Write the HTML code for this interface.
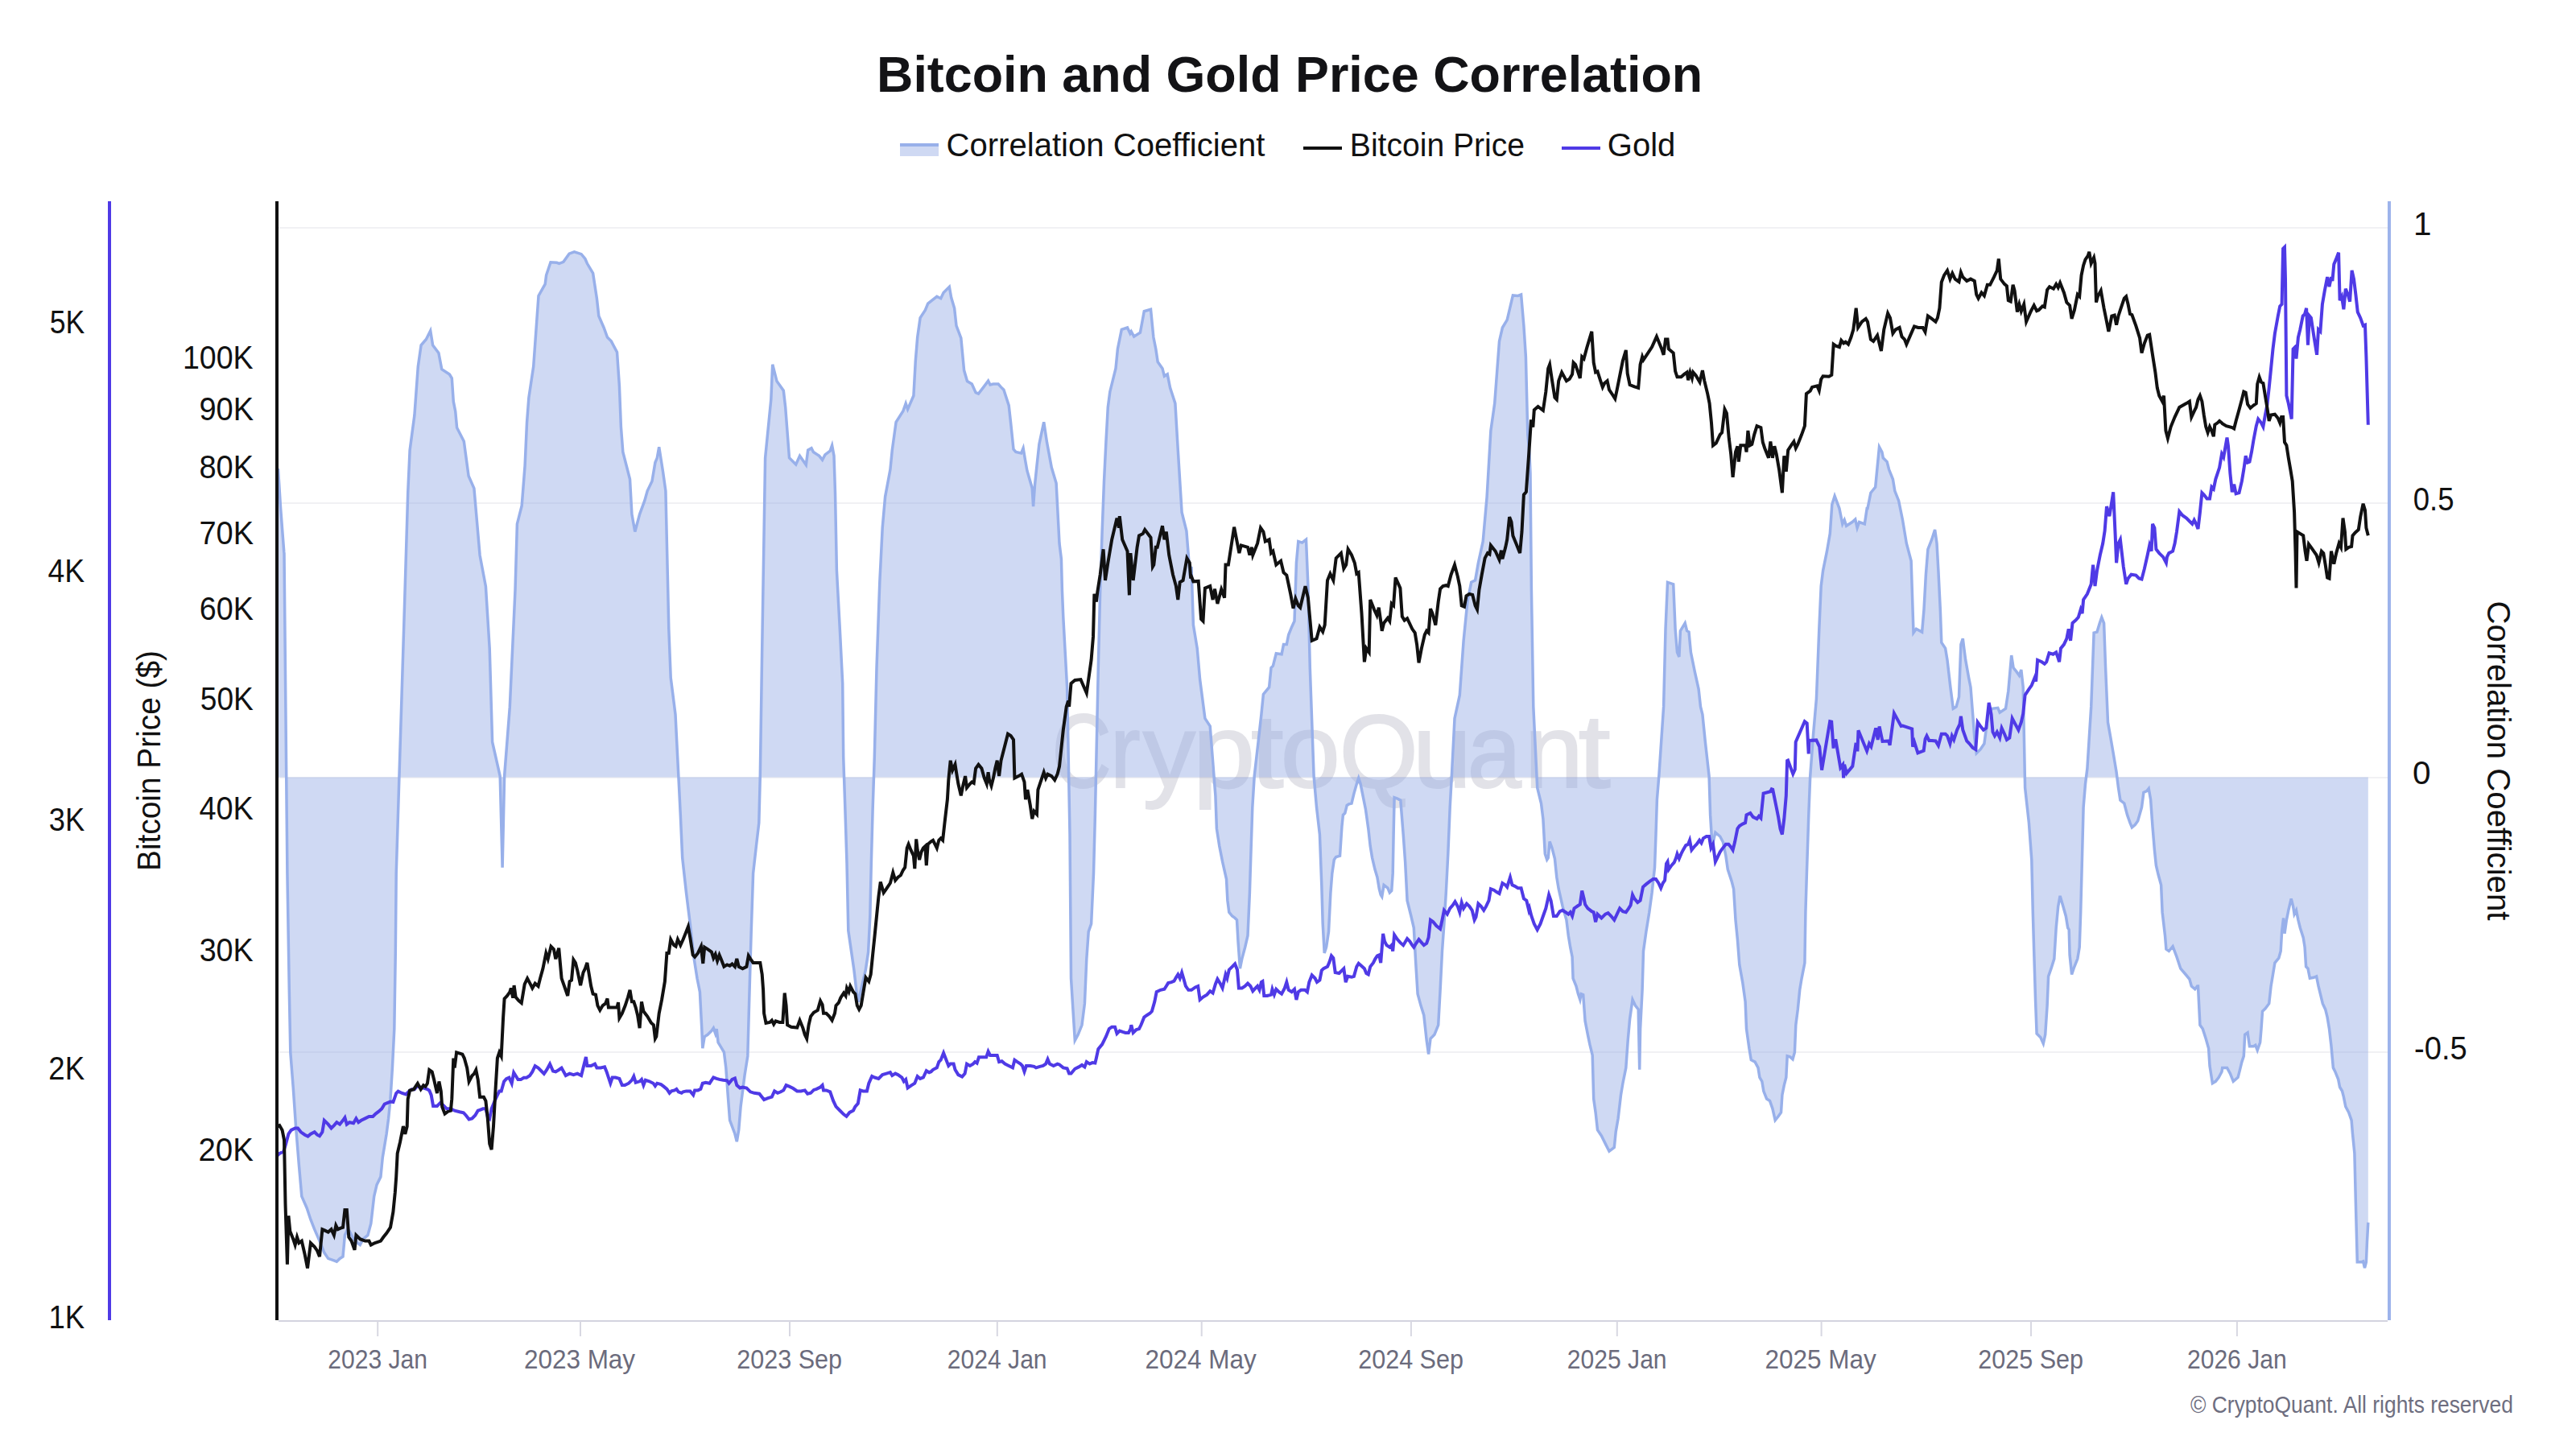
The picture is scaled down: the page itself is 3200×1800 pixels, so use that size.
<!DOCTYPE html>
<html><head><meta charset="utf-8"><title>Bitcoin and Gold Price Correlation</title>
<style>html,body{margin:0;padding:0;background:#fff;width:3200px;height:1800px;overflow:hidden}svg{position:absolute;left:0;top:0;font-family:"Liberation Sans",sans-serif}</style></head>
<body><svg width="3200" height="1800" viewBox="0 0 3200 1800">
<line x1="346" y1="283" x2="2966" y2="283" stroke="#f1f1f4" stroke-width="2"/>
<line x1="346" y1="625" x2="2966" y2="625" stroke="#f1f1f4" stroke-width="2"/>
<line x1="346" y1="966" x2="2966" y2="966" stroke="#f1f1f4" stroke-width="2"/>
<line x1="346" y1="1307" x2="2966" y2="1307" stroke="#f1f1f4" stroke-width="2"/>
<g opacity="0.18" fill="#646482" stroke="#646482" stroke-width="2" font-size="129.0"><text x="1306.80" y="978" textLength="73.76" lengthAdjust="spacingAndGlyphs">C</text><text x="1379.14" y="978" textLength="37.30" lengthAdjust="spacingAndGlyphs">r</text><text x="1419.83" y="978" textLength="65.25" lengthAdjust="spacingAndGlyphs">y</text><text x="1481.70" y="978" textLength="77.60" lengthAdjust="spacingAndGlyphs">p</text><text x="1554.04" y="978" textLength="40.52" lengthAdjust="spacingAndGlyphs">t</text><text x="1590.88" y="978" textLength="74.14" lengthAdjust="spacingAndGlyphs">o</text><text x="1663.81" y="978" textLength="97.90" lengthAdjust="spacingAndGlyphs">Q</text><text x="1754.97" y="978" textLength="72.85" lengthAdjust="spacingAndGlyphs">u</text><text x="1822.64" y="978" textLength="67.04" lengthAdjust="spacingAndGlyphs">a</text><text x="1893.74" y="978" textLength="73.12" lengthAdjust="spacingAndGlyphs">n</text><text x="1960.67" y="978" textLength="39.87" lengthAdjust="spacingAndGlyphs">t</text></g>
<path d="M345.5,965.5 L345.5,582.0 L348.5,630.0 L352.8,686.0 L353.0,687.3 L356.9,1085.0 L359.3,1229.9 L360.8,1307.3 L364.2,1350.7 L367.5,1399.1 L371.4,1447.4 L374.8,1486.1 L381.1,1500.5 L385.9,1515.0 L390.7,1527.1 L397.0,1541.6 L402.8,1556.1 L407.7,1563.4 L414.9,1565.8 L418.3,1567.2 L422.1,1563.4 L426.0,1561.0 L428.4,1534.4 L431.8,1527.1 L434.2,1529.5 L439.1,1539.2 L443.9,1544.0 L447.3,1546.5 L451.1,1539.2 L456.9,1534.4 L460.8,1519.9 L464.7,1486.1 L468.1,1471.6 L472.9,1461.9 L475.3,1437.7 L477.7,1423.2 L480.1,1408.7 L482.6,1389.4 L485.0,1365.2 L487.4,1326.6 L489.8,1278.3 L491.3,1181.6 L492.2,1085.0 L501.9,771.9 L506.7,612.4 L509.1,559.3 L514.9,515.8 L519.3,455.4 L523.1,428.8 L529.4,421.5 L534.7,410.9 L537.6,428.8 L544.9,438.5 L548.8,458.8 L558.4,465.0 L561.3,469.9 L563.3,498.9 L565.7,510.9 L567.6,531.2 L576.3,548.2 L582.1,591.2 L588.9,606.6 L596.1,689.7 L603.4,728.4 L608.2,805.7 L611.6,921.7 L621.2,964.2 L624.1,1077.7 L626.6,964.2 L633.3,878.2 L640.0,733.0 L642.4,650.9 L648.2,628.2 L652.1,578.4 L654.5,525.3 L656.9,493.9 L662.7,455.3 L669.0,367.4 L677.2,352.9 L678.6,341.8 L684.0,325.8 L691.7,326.3 L694.6,327.3 L699.9,325.3 L707.1,315.2 L713.4,312.8 L722.1,315.7 L726.9,321.5 L729.4,327.3 L736.6,339.4 L741.4,370.7 L743.8,392.5 L750.1,407.0 L754.5,419.0 L759.3,423.9 L766.5,437.4 L769.4,479.4 L771.4,530.1 L773.8,561.5 L782.5,595.3 L784.9,638.8 L788.8,660.5 L794.6,638.8 L800.8,621.9 L804.2,609.8 L810.0,597.7 L813.9,574.6 L816.3,568.8 L818.7,555.2 L823.5,585.7 L826.9,609.8 L829.3,713.7 L830.8,781.3 L833.2,841.6 L839.0,887.5 L845.3,1012.4 L847.7,1065.6 L852.5,1109.0 L857.3,1147.7 L862.2,1191.1 L866.0,1215.3 L869.4,1232.2 L871.8,1278.1 L872.8,1302.2 L875.2,1287.7 L879.1,1285.3 L883.9,1280.5 L886.3,1277.1 L888.7,1283.9 L890.2,1278.1 L892.1,1295.0 L896.0,1301.3 L899.4,1307.1 L901.8,1326.4 L904.2,1360.2 L906.6,1391.6 L912.9,1408.5 L915.3,1418.1 L917.7,1403.7 L920.1,1374.7 L925.0,1336.0 L928.8,1311.9 L930.8,1239.4 L933.2,1157.3 L935.6,1084.9 L939.4,1051.1 L942.8,1022.1 L944.3,964.1 L946.7,805.4 L949.1,660.5 L950.6,568.8 L957.8,496.3 L959.7,452.8 L965.0,473.6 L973.3,485.2 L975.7,506.0 L980.5,568.8 L988.7,577.0 L993.5,566.3 L1001.3,577.5 L1003.7,559.1 L1008.0,556.7 L1010.4,561.5 L1017.7,566.3 L1021.6,571.2 L1024.9,564.9 L1031.2,560.1 L1033.6,553.3 L1036.0,566.3 L1037.5,612.2 L1039.4,708.8 L1043.3,781.3 L1046.7,848.9 L1047.7,940.0 L1049.9,1006.0 L1052.0,1072.5 L1053.8,1156.0 L1060.9,1205.0 L1064.2,1233.6 L1066.4,1244.6 L1068.6,1233.6 L1075.3,1205.0 L1078.6,1182.8 L1080.8,1138.7 L1082.3,1072.5 L1084.1,1006.0 L1086.3,940.0 L1089.0,829.6 L1092.8,723.3 L1096.2,655.7 L1099.6,617.1 L1105.9,583.3 L1108.3,559.1 L1113.1,524.3 L1121.8,510.8 L1125.2,501.1 L1127.6,508.4 L1134.9,491.5 L1137.3,448.0 L1139.7,419.0 L1143.1,394.9 L1149.4,385.2 L1152.7,377.0 L1163.8,368.3 L1168.7,370.7 L1172.1,363.5 L1179.3,356.3 L1181.7,369.8 L1185.6,382.8 L1188.0,404.6 L1193.8,420.0 L1197.6,460.1 L1201.5,473.6 L1207.3,477.0 L1212.1,487.6 L1215.5,489.1 L1221.8,480.9 L1227.6,473.1 L1230.0,478.0 L1233.9,477.0 L1240.1,477.0 L1243.5,480.9 L1246.9,484.2 L1253.2,503.6 L1255.6,525.3 L1259.0,558.1 L1261.9,561.5 L1268.6,563.0 L1271.1,556.7 L1273.5,571.2 L1275.9,584.7 L1282.2,606.4 L1283.6,629.1 L1285.5,602.6 L1288.0,578.4 L1290.9,551.9 L1296.7,524.3 L1300.5,549.4 L1306.3,580.8 L1312.1,600.2 L1316.0,675.0 L1318.4,694.3 L1319.4,733.0 L1320.8,766.8 L1323.2,810.3 L1325.6,853.7 L1329.0,1036.6 L1330.5,1215.3 L1332.9,1253.9 L1335.3,1292.6 L1339.2,1285.3 L1344.0,1273.3 L1347.4,1246.7 L1349.8,1191.1 L1352.2,1157.3 L1355.6,1147.7 L1358.5,1084.9 L1360.4,1012.4 L1364.3,829.6 L1366.7,733.0 L1369.1,660.5 L1371.5,597.7 L1373.9,549.4 L1376.3,506.0 L1378.8,486.7 L1386.0,457.7 L1388.4,433.5 L1393.3,409.4 L1400.5,407.0 L1403.9,414.2 L1405.3,411.8 L1408.7,418.1 L1416.4,413.2 L1421.3,386.7 L1429.5,384.3 L1432.9,419.0 L1435.8,433.5 L1438.2,449.5 L1444.0,457.7 L1446.4,467.3 L1450.2,464.9 L1453.6,481.8 L1459.9,501.1 L1463.3,559.1 L1465.7,597.7 L1468.1,636.4 L1473.9,659.6 L1477.8,708.8 L1480.0,704.0 L1482.4,776.4 L1487.2,805.4 L1490.6,844.1 L1496.9,892.4 L1503.2,902.0 L1509.9,988.3 L1511.4,1029.4 L1514.8,1051.1 L1518.6,1070.4 L1523.5,1092.1 L1524.9,1118.7 L1526.8,1133.2 L1530.7,1138.0 L1534.1,1140.4 L1536.5,1142.8 L1538.0,1169.4 L1540.4,1203.2 L1542.8,1191.1 L1546.7,1176.7 L1550.0,1162.2 L1552.4,1109.0 L1553.9,1060.7 L1555.8,1002.8 L1558.2,964.1 L1563.1,921.3 L1566.9,887.5 L1569.4,862.4 L1576.6,853.7 L1579.0,829.6 L1581.4,827.2 L1585.3,811.7 L1592.1,812.7 L1594.5,800.6 L1598.3,800.6 L1600.7,788.5 L1604.6,778.9 L1608.0,771.6 L1610.4,699.2 L1612.8,672.6 L1617.6,674.1 L1622.5,670.2 L1624.9,728.1 L1627.3,829.6 L1632.1,964.1 L1635.5,1002.8 L1639.4,1036.6 L1641.8,1099.4 L1643.2,1147.7 L1645.2,1183.9 L1647.6,1176.7 L1650.5,1157.3 L1652.9,1109.0 L1654.8,1084.9 L1657.3,1068.0 L1659.7,1064.6 L1664.5,1063.2 L1666.9,1026.9 L1668.4,1012.4 L1670.8,1010.0 L1673.2,1000.4 L1675.6,998.9 L1679.0,998.0 L1681.9,985.9 L1685.3,973.8 L1687.7,966.6 L1690.1,973.8 L1692.5,985.9 L1696.4,1005.2 L1699.8,1029.4 L1702.2,1051.1 L1704.6,1065.6 L1708.0,1080.1 L1710.9,1089.7 L1713.3,1104.2 L1715.2,1111.5 L1716.7,1113.9 L1719.1,1099.4 L1723.9,1103.2 L1726.3,1109.0 L1728.7,1106.6 L1730.2,1084.9 L1731.1,1036.6 L1732.1,990.7 L1736.0,992.2 L1739.8,994.1 L1743.2,1036.6 L1745.6,1070.4 L1748.1,1118.7 L1752.9,1138.0 L1756.3,1152.5 L1758.7,1196.0 L1761.1,1234.6 L1765.0,1249.1 L1768.8,1261.2 L1772.2,1292.6 L1774.6,1309.5 L1777.0,1290.2 L1781.9,1285.3 L1786.7,1273.3 L1789.1,1229.8 L1791.5,1181.5 L1793.9,1147.7 L1796.3,1109.0 L1798.8,1060.7 L1801.2,1002.8 L1803.6,959.3 L1807.0,892.4 L1813.3,863.4 L1815.7,829.6 L1818.1,795.8 L1822.9,747.5 L1827.7,723.3 L1832.6,720.9 L1836.4,699.2 L1842.2,672.6 L1847.1,617.1 L1851.9,535.0 L1856.7,501.1 L1862.5,423.9 L1866.4,407.0 L1872.2,397.3 L1879.4,366.9 L1885.7,367.4 L1889.6,365.9 L1892.9,404.6 L1895.4,443.2 L1897.8,539.8 L1900.0,563.9 L1901.0,588.1 L1902.4,733.0 L1904.8,877.9 L1909.7,978.6 L1914.5,998.0 L1916.9,1017.3 L1919.3,1060.7 L1921.7,1068.0 L1923.2,1065.6 L1925.1,1045.3 L1928.0,1053.5 L1931.4,1066.5 L1933.8,1089.7 L1936.2,1104.2 L1941.1,1125.9 L1945.9,1142.8 L1948.3,1162.2 L1950.7,1176.7 L1953.1,1188.7 L1954.1,1215.3 L1958.0,1225.0 L1960.4,1234.6 L1962.8,1241.9 L1964.2,1234.6 L1966.7,1235.6 L1969.1,1268.4 L1972.4,1285.3 L1974.9,1297.4 L1978.2,1310.9 L1979.7,1365.0 L1982.1,1381.9 L1984.5,1403.7 L1989.4,1410.9 L1994.2,1420.6 L1999.0,1430.2 L2005.3,1425.4 L2007.2,1406.1 L2010.1,1389.2 L2013.5,1360.2 L2015.9,1345.7 L2019.8,1326.4 L2022.2,1292.6 L2024.6,1266.0 L2028.0,1241.9 L2031.4,1249.1 L2035.2,1253.9 L2036.7,1328.8 L2037.6,1278.1 L2040.1,1229.8 L2041.5,1181.5 L2044.9,1157.3 L2048.8,1133.2 L2052.1,1109.0 L2055.5,1077.6 L2057.0,1036.6 L2058.4,993.1 L2060.8,964.1 L2066.6,877.9 L2069.0,781.3 L2071.5,723.3 L2078.7,725.7 L2081.1,781.3 L2083.5,810.3 L2085.9,816.0 L2087.4,783.7 L2093.2,774.0 L2095.6,783.7 L2098.0,785.1 L2100.4,810.3 L2105.3,834.4 L2110.1,856.1 L2112.5,877.9 L2114.9,887.5 L2118.3,921.3 L2123.1,964.1 L2124.6,1012.4 L2127.0,1051.1 L2130.9,1034.2 L2136.7,1039.0 L2140.5,1046.3 L2143.9,1063.2 L2146.3,1080.1 L2151.1,1094.6 L2153.6,1104.2 L2156.0,1142.8 L2158.4,1167.0 L2160.8,1198.4 L2164.7,1220.1 L2168.1,1244.3 L2169.5,1278.1 L2172.9,1302.2 L2175.3,1316.7 L2180.1,1319.1 L2184.0,1326.4 L2185.9,1338.5 L2188.8,1343.3 L2190.8,1355.4 L2194.6,1365.0 L2198.5,1367.4 L2201.9,1377.1 L2205.2,1391.6 L2209.1,1386.8 L2212.5,1381.9 L2213.9,1360.2 L2216.3,1348.1 L2218.8,1338.5 L2220.2,1311.9 L2223.6,1312.9 L2227.0,1315.8 L2229.4,1307.1 L2230.8,1273.3 L2233.3,1253.9 L2235.7,1229.8 L2238.1,1215.3 L2241.9,1196.0 L2242.9,1133.2 L2244.4,1084.9 L2246.8,1012.4 L2248.7,964.1 L2252.6,911.7 L2256.4,868.2 L2259.8,781.3 L2262.2,728.1 L2264.6,708.8 L2269.5,684.7 L2273.3,662.9 L2275.8,626.7 L2279.1,616.1 L2284.9,631.6 L2288.8,650.9 L2291.2,646.0 L2293.6,653.3 L2300.9,648.5 L2304.7,645.1 L2307.1,655.7 L2309.6,648.5 L2316.3,650.9 L2319.2,631.6 L2320.0,631.6 L2323.9,612.2 L2329.7,605.0 L2334.5,555.2 L2337.9,561.5 L2339.3,568.8 L2344.1,573.6 L2346.6,583.3 L2351.4,595.3 L2353.8,609.8 L2358.6,621.9 L2363.5,646.0 L2368.3,675.0 L2374.1,696.8 L2377.0,786.1 L2380.4,781.3 L2387.6,785.1 L2390.0,757.1 L2392.4,713.7 L2394.9,682.3 L2399.7,670.2 L2403.6,658.1 L2406.0,675.0 L2407.9,708.8 L2410.3,757.1 L2411.8,798.2 L2416.6,805.4 L2419.0,819.9 L2422.9,853.7 L2426.3,880.3 L2430.1,877.9 L2433.5,865.8 L2435.9,800.6 L2438.3,793.3 L2439.8,805.4 L2441.7,819.9 L2445.6,841.6 L2448.0,853.7 L2451.4,897.2 L2452.8,916.5 L2455.2,935.8 L2460.1,931.0 L2464.9,923.8 L2469.7,887.5 L2474.6,880.3 L2481.8,879.3 L2484.2,885.1 L2491.5,880.3 L2494.8,858.5 L2498.7,814.1 L2501.1,829.6 L2505.0,834.4 L2508.4,839.2 L2510.8,832.0 L2513.2,853.7 L2515.6,978.6 L2520.4,1022.1 L2523.8,1068.0 L2525.3,1133.2 L2526.7,1181.5 L2528.6,1244.3 L2530.1,1283.9 L2534.9,1288.7 L2538.3,1296.4 L2540.7,1285.3 L2543.1,1249.1 L2544.6,1212.9 L2548.0,1203.2 L2551.8,1191.1 L2554.2,1152.5 L2556.7,1125.9 L2559.1,1112.9 L2562.9,1125.9 L2566.3,1138.0 L2568.7,1152.5 L2570.2,1154.9 L2571.1,1186.3 L2573.6,1210.5 L2576.0,1203.2 L2580.8,1191.1 L2583.2,1176.7 L2584.7,1133.2 L2586.6,1060.7 L2588.1,1002.8 L2590.5,973.8 L2592.9,954.5 L2597.7,877.9 L2601.1,786.1 L2605.0,785.1 L2608.3,774.0 L2610.8,766.8 L2613.6,774.0 L2615.6,829.6 L2618.5,897.2 L2621.9,916.5 L2625.2,935.8 L2629.1,959.3 L2631.5,978.6 L2633.9,994.1 L2638.8,998.0 L2642.6,1012.4 L2646.0,1022.1 L2648.4,1027.9 L2652.3,1024.5 L2655.7,1019.7 L2660.5,1002.8 L2662.9,984.4 L2666.8,982.5 L2669.2,979.6 L2671.6,993.1 L2674.0,1026.9 L2676.4,1055.9 L2678.4,1075.2 L2681.3,1087.3 L2684.6,1099.4 L2686.1,1133.2 L2689.5,1162.2 L2690.9,1179.1 L2694.3,1181.5 L2699.1,1175.7 L2704.0,1188.7 L2708.8,1203.2 L2715.1,1210.5 L2719.9,1216.3 L2722.3,1225.0 L2726.7,1228.8 L2729.6,1225.0 L2730.5,1225.0 L2732.9,1273.3 L2736.3,1278.1 L2740.2,1290.2 L2743.6,1302.2 L2745.0,1324.0 L2748.4,1345.7 L2752.3,1343.3 L2756.1,1338.5 L2760.0,1331.2 L2760.7,1326.4 L2766.5,1326.4 L2770.4,1333.6 L2774.3,1343.3 L2780.1,1338.4 L2782.5,1328.8 L2784.9,1319.1 L2787.3,1311.9 L2788.7,1285.3 L2792.1,1282.9 L2794.5,1299.8 L2799.4,1299.8 L2801.8,1298.4 L2804.2,1304.6 L2807.6,1295.0 L2809.0,1278.1 L2810.5,1256.3 L2813.9,1253.0 L2818.7,1246.7 L2821.1,1224.9 L2823.5,1210.5 L2825.9,1196.0 L2830.8,1190.2 L2833.2,1181.5 L2834.6,1157.3 L2836.6,1140.4 L2838.0,1159.7 L2840.4,1142.8 L2842.8,1130.8 L2846.2,1116.3 L2848.6,1125.9 L2850.1,1135.6 L2852.5,1130.8 L2854.9,1142.8 L2857.3,1152.5 L2861.2,1164.6 L2863.1,1176.6 L2864.6,1200.8 L2867.0,1203.2 L2869.4,1215.3 L2874.2,1214.3 L2877.6,1212.9 L2880.0,1224.9 L2882.4,1234.6 L2885.3,1246.7 L2888.7,1253.9 L2891.1,1263.6 L2893.5,1278.1 L2896.0,1299.8 L2898.4,1326.4 L2900.8,1331.2 L2904.7,1340.8 L2906.6,1350.5 L2909.5,1355.3 L2911.4,1362.6 L2913.8,1374.7 L2917.7,1381.9 L2921.1,1391.6 L2922.5,1408.5 L2924.9,1432.6 L2926.4,1495.4 L2928.3,1567.8 L2933.2,1567.8 L2935.6,1566.9 L2937.5,1575.1 L2939.4,1567.8 L2940.4,1543.7 L2941.8,1518.6 L2941.8,965.5 Z" fill="rgb(148,171,228)" fill-opacity="0.45" stroke="none"/>
<path d="M345.5,582.0 L348.5,630.0 L352.8,686.0 L353.0,687.3 L356.9,1085.0 L359.3,1229.9 L360.8,1307.3 L364.2,1350.7 L367.5,1399.1 L371.4,1447.4 L374.8,1486.1 L381.1,1500.5 L385.9,1515.0 L390.7,1527.1 L397.0,1541.6 L402.8,1556.1 L407.7,1563.4 L414.9,1565.8 L418.3,1567.2 L422.1,1563.4 L426.0,1561.0 L428.4,1534.4 L431.8,1527.1 L434.2,1529.5 L439.1,1539.2 L443.9,1544.0 L447.3,1546.5 L451.1,1539.2 L456.9,1534.4 L460.8,1519.9 L464.7,1486.1 L468.1,1471.6 L472.9,1461.9 L475.3,1437.7 L477.7,1423.2 L480.1,1408.7 L482.6,1389.4 L485.0,1365.2 L487.4,1326.6 L489.8,1278.3 L491.3,1181.6 L492.2,1085.0 L501.9,771.9 L506.7,612.4 L509.1,559.3 L514.9,515.8 L519.3,455.4 L523.1,428.8 L529.4,421.5 L534.7,410.9 L537.6,428.8 L544.9,438.5 L548.8,458.8 L558.4,465.0 L561.3,469.9 L563.3,498.9 L565.7,510.9 L567.6,531.2 L576.3,548.2 L582.1,591.2 L588.9,606.6 L596.1,689.7 L603.4,728.4 L608.2,805.7 L611.6,921.7 L621.2,964.2 L624.1,1077.7 L626.6,964.2 L633.3,878.2 L640.0,733.0 L642.4,650.9 L648.2,628.2 L652.1,578.4 L654.5,525.3 L656.9,493.9 L662.7,455.3 L669.0,367.4 L677.2,352.9 L678.6,341.8 L684.0,325.8 L691.7,326.3 L694.6,327.3 L699.9,325.3 L707.1,315.2 L713.4,312.8 L722.1,315.7 L726.9,321.5 L729.4,327.3 L736.6,339.4 L741.4,370.7 L743.8,392.5 L750.1,407.0 L754.5,419.0 L759.3,423.9 L766.5,437.4 L769.4,479.4 L771.4,530.1 L773.8,561.5 L782.5,595.3 L784.9,638.8 L788.8,660.5 L794.6,638.8 L800.8,621.9 L804.2,609.8 L810.0,597.7 L813.9,574.6 L816.3,568.8 L818.7,555.2 L823.5,585.7 L826.9,609.8 L829.3,713.7 L830.8,781.3 L833.2,841.6 L839.0,887.5 L845.3,1012.4 L847.7,1065.6 L852.5,1109.0 L857.3,1147.7 L862.2,1191.1 L866.0,1215.3 L869.4,1232.2 L871.8,1278.1 L872.8,1302.2 L875.2,1287.7 L879.1,1285.3 L883.9,1280.5 L886.3,1277.1 L888.7,1283.9 L890.2,1278.1 L892.1,1295.0 L896.0,1301.3 L899.4,1307.1 L901.8,1326.4 L904.2,1360.2 L906.6,1391.6 L912.9,1408.5 L915.3,1418.1 L917.7,1403.7 L920.1,1374.7 L925.0,1336.0 L928.8,1311.9 L930.8,1239.4 L933.2,1157.3 L935.6,1084.9 L939.4,1051.1 L942.8,1022.1 L944.3,964.1 L946.7,805.4 L949.1,660.5 L950.6,568.8 L957.8,496.3 L959.7,452.8 L965.0,473.6 L973.3,485.2 L975.7,506.0 L980.5,568.8 L988.7,577.0 L993.5,566.3 L1001.3,577.5 L1003.7,559.1 L1008.0,556.7 L1010.4,561.5 L1017.7,566.3 L1021.6,571.2 L1024.9,564.9 L1031.2,560.1 L1033.6,553.3 L1036.0,566.3 L1037.5,612.2 L1039.4,708.8 L1043.3,781.3 L1046.7,848.9 L1047.7,940.0 L1049.9,1006.0 L1052.0,1072.5 L1053.8,1156.0 L1060.9,1205.0 L1064.2,1233.6 L1066.4,1244.6 L1068.6,1233.6 L1075.3,1205.0 L1078.6,1182.8 L1080.8,1138.7 L1082.3,1072.5 L1084.1,1006.0 L1086.3,940.0 L1089.0,829.6 L1092.8,723.3 L1096.2,655.7 L1099.6,617.1 L1105.9,583.3 L1108.3,559.1 L1113.1,524.3 L1121.8,510.8 L1125.2,501.1 L1127.6,508.4 L1134.9,491.5 L1137.3,448.0 L1139.7,419.0 L1143.1,394.9 L1149.4,385.2 L1152.7,377.0 L1163.8,368.3 L1168.7,370.7 L1172.1,363.5 L1179.3,356.3 L1181.7,369.8 L1185.6,382.8 L1188.0,404.6 L1193.8,420.0 L1197.6,460.1 L1201.5,473.6 L1207.3,477.0 L1212.1,487.6 L1215.5,489.1 L1221.8,480.9 L1227.6,473.1 L1230.0,478.0 L1233.9,477.0 L1240.1,477.0 L1243.5,480.9 L1246.9,484.2 L1253.2,503.6 L1255.6,525.3 L1259.0,558.1 L1261.9,561.5 L1268.6,563.0 L1271.1,556.7 L1273.5,571.2 L1275.9,584.7 L1282.2,606.4 L1283.6,629.1 L1285.5,602.6 L1288.0,578.4 L1290.9,551.9 L1296.7,524.3 L1300.5,549.4 L1306.3,580.8 L1312.1,600.2 L1316.0,675.0 L1318.4,694.3 L1319.4,733.0 L1320.8,766.8 L1323.2,810.3 L1325.6,853.7 L1329.0,1036.6 L1330.5,1215.3 L1332.9,1253.9 L1335.3,1292.6 L1339.2,1285.3 L1344.0,1273.3 L1347.4,1246.7 L1349.8,1191.1 L1352.2,1157.3 L1355.6,1147.7 L1358.5,1084.9 L1360.4,1012.4 L1364.3,829.6 L1366.7,733.0 L1369.1,660.5 L1371.5,597.7 L1373.9,549.4 L1376.3,506.0 L1378.8,486.7 L1386.0,457.7 L1388.4,433.5 L1393.3,409.4 L1400.5,407.0 L1403.9,414.2 L1405.3,411.8 L1408.7,418.1 L1416.4,413.2 L1421.3,386.7 L1429.5,384.3 L1432.9,419.0 L1435.8,433.5 L1438.2,449.5 L1444.0,457.7 L1446.4,467.3 L1450.2,464.9 L1453.6,481.8 L1459.9,501.1 L1463.3,559.1 L1465.7,597.7 L1468.1,636.4 L1473.9,659.6 L1477.8,708.8 L1480.0,704.0 L1482.4,776.4 L1487.2,805.4 L1490.6,844.1 L1496.9,892.4 L1503.2,902.0 L1509.9,988.3 L1511.4,1029.4 L1514.8,1051.1 L1518.6,1070.4 L1523.5,1092.1 L1524.9,1118.7 L1526.8,1133.2 L1530.7,1138.0 L1534.1,1140.4 L1536.5,1142.8 L1538.0,1169.4 L1540.4,1203.2 L1542.8,1191.1 L1546.7,1176.7 L1550.0,1162.2 L1552.4,1109.0 L1553.9,1060.7 L1555.8,1002.8 L1558.2,964.1 L1563.1,921.3 L1566.9,887.5 L1569.4,862.4 L1576.6,853.7 L1579.0,829.6 L1581.4,827.2 L1585.3,811.7 L1592.1,812.7 L1594.5,800.6 L1598.3,800.6 L1600.7,788.5 L1604.6,778.9 L1608.0,771.6 L1610.4,699.2 L1612.8,672.6 L1617.6,674.1 L1622.5,670.2 L1624.9,728.1 L1627.3,829.6 L1632.1,964.1 L1635.5,1002.8 L1639.4,1036.6 L1641.8,1099.4 L1643.2,1147.7 L1645.2,1183.9 L1647.6,1176.7 L1650.5,1157.3 L1652.9,1109.0 L1654.8,1084.9 L1657.3,1068.0 L1659.7,1064.6 L1664.5,1063.2 L1666.9,1026.9 L1668.4,1012.4 L1670.8,1010.0 L1673.2,1000.4 L1675.6,998.9 L1679.0,998.0 L1681.9,985.9 L1685.3,973.8 L1687.7,966.6 L1690.1,973.8 L1692.5,985.9 L1696.4,1005.2 L1699.8,1029.4 L1702.2,1051.1 L1704.6,1065.6 L1708.0,1080.1 L1710.9,1089.7 L1713.3,1104.2 L1715.2,1111.5 L1716.7,1113.9 L1719.1,1099.4 L1723.9,1103.2 L1726.3,1109.0 L1728.7,1106.6 L1730.2,1084.9 L1731.1,1036.6 L1732.1,990.7 L1736.0,992.2 L1739.8,994.1 L1743.2,1036.6 L1745.6,1070.4 L1748.1,1118.7 L1752.9,1138.0 L1756.3,1152.5 L1758.7,1196.0 L1761.1,1234.6 L1765.0,1249.1 L1768.8,1261.2 L1772.2,1292.6 L1774.6,1309.5 L1777.0,1290.2 L1781.9,1285.3 L1786.7,1273.3 L1789.1,1229.8 L1791.5,1181.5 L1793.9,1147.7 L1796.3,1109.0 L1798.8,1060.7 L1801.2,1002.8 L1803.6,959.3 L1807.0,892.4 L1813.3,863.4 L1815.7,829.6 L1818.1,795.8 L1822.9,747.5 L1827.7,723.3 L1832.6,720.9 L1836.4,699.2 L1842.2,672.6 L1847.1,617.1 L1851.9,535.0 L1856.7,501.1 L1862.5,423.9 L1866.4,407.0 L1872.2,397.3 L1879.4,366.9 L1885.7,367.4 L1889.6,365.9 L1892.9,404.6 L1895.4,443.2 L1897.8,539.8 L1900.0,563.9 L1901.0,588.1 L1902.4,733.0 L1904.8,877.9 L1909.7,978.6 L1914.5,998.0 L1916.9,1017.3 L1919.3,1060.7 L1921.7,1068.0 L1923.2,1065.6 L1925.1,1045.3 L1928.0,1053.5 L1931.4,1066.5 L1933.8,1089.7 L1936.2,1104.2 L1941.1,1125.9 L1945.9,1142.8 L1948.3,1162.2 L1950.7,1176.7 L1953.1,1188.7 L1954.1,1215.3 L1958.0,1225.0 L1960.4,1234.6 L1962.8,1241.9 L1964.2,1234.6 L1966.7,1235.6 L1969.1,1268.4 L1972.4,1285.3 L1974.9,1297.4 L1978.2,1310.9 L1979.7,1365.0 L1982.1,1381.9 L1984.5,1403.7 L1989.4,1410.9 L1994.2,1420.6 L1999.0,1430.2 L2005.3,1425.4 L2007.2,1406.1 L2010.1,1389.2 L2013.5,1360.2 L2015.9,1345.7 L2019.8,1326.4 L2022.2,1292.6 L2024.6,1266.0 L2028.0,1241.9 L2031.4,1249.1 L2035.2,1253.9 L2036.7,1328.8 L2037.6,1278.1 L2040.1,1229.8 L2041.5,1181.5 L2044.9,1157.3 L2048.8,1133.2 L2052.1,1109.0 L2055.5,1077.6 L2057.0,1036.6 L2058.4,993.1 L2060.8,964.1 L2066.6,877.9 L2069.0,781.3 L2071.5,723.3 L2078.7,725.7 L2081.1,781.3 L2083.5,810.3 L2085.9,816.0 L2087.4,783.7 L2093.2,774.0 L2095.6,783.7 L2098.0,785.1 L2100.4,810.3 L2105.3,834.4 L2110.1,856.1 L2112.5,877.9 L2114.9,887.5 L2118.3,921.3 L2123.1,964.1 L2124.6,1012.4 L2127.0,1051.1 L2130.9,1034.2 L2136.7,1039.0 L2140.5,1046.3 L2143.9,1063.2 L2146.3,1080.1 L2151.1,1094.6 L2153.6,1104.2 L2156.0,1142.8 L2158.4,1167.0 L2160.8,1198.4 L2164.7,1220.1 L2168.1,1244.3 L2169.5,1278.1 L2172.9,1302.2 L2175.3,1316.7 L2180.1,1319.1 L2184.0,1326.4 L2185.9,1338.5 L2188.8,1343.3 L2190.8,1355.4 L2194.6,1365.0 L2198.5,1367.4 L2201.9,1377.1 L2205.2,1391.6 L2209.1,1386.8 L2212.5,1381.9 L2213.9,1360.2 L2216.3,1348.1 L2218.8,1338.5 L2220.2,1311.9 L2223.6,1312.9 L2227.0,1315.8 L2229.4,1307.1 L2230.8,1273.3 L2233.3,1253.9 L2235.7,1229.8 L2238.1,1215.3 L2241.9,1196.0 L2242.9,1133.2 L2244.4,1084.9 L2246.8,1012.4 L2248.7,964.1 L2252.6,911.7 L2256.4,868.2 L2259.8,781.3 L2262.2,728.1 L2264.6,708.8 L2269.5,684.7 L2273.3,662.9 L2275.8,626.7 L2279.1,616.1 L2284.9,631.6 L2288.8,650.9 L2291.2,646.0 L2293.6,653.3 L2300.9,648.5 L2304.7,645.1 L2307.1,655.7 L2309.6,648.5 L2316.3,650.9 L2319.2,631.6 L2320.0,631.6 L2323.9,612.2 L2329.7,605.0 L2334.5,555.2 L2337.9,561.5 L2339.3,568.8 L2344.1,573.6 L2346.6,583.3 L2351.4,595.3 L2353.8,609.8 L2358.6,621.9 L2363.5,646.0 L2368.3,675.0 L2374.1,696.8 L2377.0,786.1 L2380.4,781.3 L2387.6,785.1 L2390.0,757.1 L2392.4,713.7 L2394.9,682.3 L2399.7,670.2 L2403.6,658.1 L2406.0,675.0 L2407.9,708.8 L2410.3,757.1 L2411.8,798.2 L2416.6,805.4 L2419.0,819.9 L2422.9,853.7 L2426.3,880.3 L2430.1,877.9 L2433.5,865.8 L2435.9,800.6 L2438.3,793.3 L2439.8,805.4 L2441.7,819.9 L2445.6,841.6 L2448.0,853.7 L2451.4,897.2 L2452.8,916.5 L2455.2,935.8 L2460.1,931.0 L2464.9,923.8 L2469.7,887.5 L2474.6,880.3 L2481.8,879.3 L2484.2,885.1 L2491.5,880.3 L2494.8,858.5 L2498.7,814.1 L2501.1,829.6 L2505.0,834.4 L2508.4,839.2 L2510.8,832.0 L2513.2,853.7 L2515.6,978.6 L2520.4,1022.1 L2523.8,1068.0 L2525.3,1133.2 L2526.7,1181.5 L2528.6,1244.3 L2530.1,1283.9 L2534.9,1288.7 L2538.3,1296.4 L2540.7,1285.3 L2543.1,1249.1 L2544.6,1212.9 L2548.0,1203.2 L2551.8,1191.1 L2554.2,1152.5 L2556.7,1125.9 L2559.1,1112.9 L2562.9,1125.9 L2566.3,1138.0 L2568.7,1152.5 L2570.2,1154.9 L2571.1,1186.3 L2573.6,1210.5 L2576.0,1203.2 L2580.8,1191.1 L2583.2,1176.7 L2584.7,1133.2 L2586.6,1060.7 L2588.1,1002.8 L2590.5,973.8 L2592.9,954.5 L2597.7,877.9 L2601.1,786.1 L2605.0,785.1 L2608.3,774.0 L2610.8,766.8 L2613.6,774.0 L2615.6,829.6 L2618.5,897.2 L2621.9,916.5 L2625.2,935.8 L2629.1,959.3 L2631.5,978.6 L2633.9,994.1 L2638.8,998.0 L2642.6,1012.4 L2646.0,1022.1 L2648.4,1027.9 L2652.3,1024.5 L2655.7,1019.7 L2660.5,1002.8 L2662.9,984.4 L2666.8,982.5 L2669.2,979.6 L2671.6,993.1 L2674.0,1026.9 L2676.4,1055.9 L2678.4,1075.2 L2681.3,1087.3 L2684.6,1099.4 L2686.1,1133.2 L2689.5,1162.2 L2690.9,1179.1 L2694.3,1181.5 L2699.1,1175.7 L2704.0,1188.7 L2708.8,1203.2 L2715.1,1210.5 L2719.9,1216.3 L2722.3,1225.0 L2726.7,1228.8 L2729.6,1225.0 L2730.5,1225.0 L2732.9,1273.3 L2736.3,1278.1 L2740.2,1290.2 L2743.6,1302.2 L2745.0,1324.0 L2748.4,1345.7 L2752.3,1343.3 L2756.1,1338.5 L2760.0,1331.2 L2760.7,1326.4 L2766.5,1326.4 L2770.4,1333.6 L2774.3,1343.3 L2780.1,1338.4 L2782.5,1328.8 L2784.9,1319.1 L2787.3,1311.9 L2788.7,1285.3 L2792.1,1282.9 L2794.5,1299.8 L2799.4,1299.8 L2801.8,1298.4 L2804.2,1304.6 L2807.6,1295.0 L2809.0,1278.1 L2810.5,1256.3 L2813.9,1253.0 L2818.7,1246.7 L2821.1,1224.9 L2823.5,1210.5 L2825.9,1196.0 L2830.8,1190.2 L2833.2,1181.5 L2834.6,1157.3 L2836.6,1140.4 L2838.0,1159.7 L2840.4,1142.8 L2842.8,1130.8 L2846.2,1116.3 L2848.6,1125.9 L2850.1,1135.6 L2852.5,1130.8 L2854.9,1142.8 L2857.3,1152.5 L2861.2,1164.6 L2863.1,1176.6 L2864.6,1200.8 L2867.0,1203.2 L2869.4,1215.3 L2874.2,1214.3 L2877.6,1212.9 L2880.0,1224.9 L2882.4,1234.6 L2885.3,1246.7 L2888.7,1253.9 L2891.1,1263.6 L2893.5,1278.1 L2896.0,1299.8 L2898.4,1326.4 L2900.8,1331.2 L2904.7,1340.8 L2906.6,1350.5 L2909.5,1355.3 L2911.4,1362.6 L2913.8,1374.7 L2917.7,1381.9 L2921.1,1391.6 L2922.5,1408.5 L2924.9,1432.6 L2926.4,1495.4 L2928.3,1567.8 L2933.2,1567.8 L2935.6,1566.9 L2937.5,1575.1 L2939.4,1567.8 L2940.4,1543.7 L2941.8,1518.6" fill="none" stroke="#98b0ea" stroke-width="3.5" stroke-linejoin="miter" stroke-miterlimit="4"/>
<path d="M344.8,1435.3 L347.2,1432.9 L352.1,1430.5 L354.5,1423.2 L358.4,1408.7 L361.7,1403.9 L366.6,1401.5 L370.0,1401.5 L373.8,1406.3 L378.7,1409.7 L382.5,1411.6 L385.9,1408.7 L390.7,1406.3 L394.1,1409.7 L397.0,1411.2 L400.4,1406.3 L402.8,1391.8 L407.7,1396.7 L411.5,1401.5 L414.9,1398.1 L418.3,1394.2 L422.1,1396.7 L426.0,1391.8 L428.4,1388.4 L430.8,1396.7 L434.2,1394.2 L439.1,1395.2 L442.4,1389.4 L445.3,1394.2 L448.7,1391.8 L453.6,1389.4 L458.4,1387.0 L463.2,1387.0 L466.6,1383.6 L470.5,1380.7 L474.3,1377.3 L477.7,1371.5 L481.1,1370.1 L485.0,1368.6 L488.4,1369.1 L492.2,1358.0 L494.6,1355.6 L499.5,1358.0 L504.3,1359.4 L508.2,1355.6 L511.5,1353.2 L514.9,1353.2 L517.8,1349.8 L519.8,1349.8 L522.7,1350.7 L526.0,1351.7 L530.9,1353.2 L533.3,1354.6 L535.7,1360.4 L538.1,1373.9 L543.0,1373.9 L546.8,1370.1 L550.2,1372.5 L555.0,1377.3 L559.9,1377.3 L564.7,1379.7 L571.0,1381.2 L575.8,1382.2 L579.2,1386.0 L582.6,1390.4 L586.4,1389.4 L590.3,1385.5 L593.7,1379.7 L596.1,1378.8 L600.0,1377.3 L603.4,1377.3 L605.8,1387.0 L608.2,1389.4 L610.6,1377.3 L614.5,1367.7 L617.9,1360.4 L620.3,1355.6 L622.7,1355.6 L626.1,1343.5 L629.0,1340.1 L632.4,1338.7 L635.7,1345.9 L638.2,1332.4 L640.6,1336.3 L643.5,1341.1 L646.9,1341.1 L650.7,1338.7 L654.1,1338.7 L658.0,1336.3 L661.3,1331.4 L664.7,1324.2 L668.6,1326.6 L672.5,1330.5 L675.8,1333.8 L679.2,1329.0 L683.1,1321.8 L687.0,1330.5 L690.3,1331.4 L694.2,1329.0 L697.6,1326.6 L702.8,1336.0 L707.6,1333.6 L712.4,1335.1 L717.3,1333.6 L722.1,1336.0 L724.5,1326.4 L727.9,1312.9 L729.4,1324.0 L734.2,1324.0 L739.0,1321.6 L741.4,1326.4 L746.3,1326.4 L751.1,1325.4 L753.5,1331.2 L755.9,1338.5 L758.3,1345.7 L760.7,1338.5 L764.6,1338.5 L769.4,1339.9 L772.8,1348.1 L776.2,1348.1 L781.0,1345.7 L784.9,1341.8 L787.3,1337.0 L789.7,1344.7 L794.6,1343.3 L797.0,1340.9 L799.4,1348.1 L801.8,1341.8 L806.6,1343.3 L811.5,1345.7 L813.9,1349.1 L816.3,1345.7 L821.1,1347.1 L824.5,1349.6 L828.4,1352.9 L831.7,1357.8 L834.2,1355.4 L838.0,1354.4 L840.4,1352.9 L842.8,1356.3 L846.7,1357.8 L848.6,1356.3 L852.5,1355.4 L857.3,1355.4 L861.2,1360.2 L863.1,1354.4 L867.0,1354.4 L870.4,1352.9 L872.8,1345.7 L876.7,1344.7 L881.5,1345.7 L886.3,1338.5 L890.2,1339.9 L893.6,1340.9 L898.4,1341.8 L903.2,1342.3 L905.6,1345.7 L909.5,1340.9 L912.9,1339.4 L915.3,1348.1 L919.2,1351.5 L922.5,1350.5 L927.4,1351.5 L932.2,1356.3 L937.0,1357.8 L943.3,1358.7 L949.1,1366.0 L953.9,1364.1 L958.8,1362.6 L962.1,1355.4 L966.0,1357.8 L969.9,1356.3 L973.3,1354.4 L976.6,1348.1 L980.5,1349.6 L985.3,1352.0 L990.2,1355.4 L995.0,1355.4 L999.8,1354.4 L1003.2,1358.7 L1007.1,1357.8 L1010.9,1353.9 L1014.3,1352.9 L1019.1,1350.5 L1021.6,1348.1 L1023.0,1354.4 L1026.4,1354.4 L1031.2,1356.3 L1035.1,1367.4 L1038.5,1374.7 L1043.3,1379.5 L1048.1,1384.3 L1051.5,1386.8 L1055.4,1381.9 L1060.0,1379.5 L1062.4,1374.7 L1065.8,1370.8 L1068.7,1354.4 L1072.1,1355.4 L1076.9,1355.4 L1079.3,1345.7 L1083.2,1337.0 L1086.6,1338.5 L1091.4,1339.9 L1096.2,1335.1 L1101.1,1333.6 L1105.9,1332.2 L1108.3,1336.0 L1112.2,1333.6 L1115.5,1335.1 L1120.4,1338.5 L1122.8,1343.3 L1125.2,1340.9 L1127.6,1351.5 L1132.4,1348.1 L1136.3,1345.7 L1139.7,1337.0 L1143.1,1339.9 L1146.9,1338.5 L1150.8,1330.2 L1154.2,1332.2 L1156.6,1331.2 L1159.0,1328.8 L1163.8,1326.4 L1166.3,1319.1 L1168.7,1316.7 L1172.1,1308.0 L1174.5,1314.3 L1178.3,1324.0 L1180.7,1321.6 L1184.6,1321.6 L1186.5,1328.8 L1190.4,1335.1 L1195.2,1337.5 L1198.6,1333.6 L1201.0,1321.6 L1204.9,1324.0 L1208.8,1321.6 L1211.2,1319.1 L1213.6,1320.6 L1216.0,1313.3 L1219.4,1313.3 L1225.2,1313.3 L1227.6,1306.1 L1230.0,1310.9 L1233.9,1310.9 L1238.7,1310.9 L1241.1,1319.1 L1244.5,1318.2 L1248.4,1321.6 L1253.2,1324.0 L1258.0,1326.4 L1260.4,1316.7 L1263.8,1319.1 L1267.7,1321.6 L1270.1,1324.0 L1272.5,1331.2 L1274.9,1324.0 L1279.8,1324.0 L1284.6,1324.9 L1287.0,1326.4 L1291.8,1324.9 L1295.7,1324.0 L1299.1,1321.6 L1301.5,1315.8 L1303.9,1321.6 L1308.7,1324.0 L1313.6,1321.6 L1316.0,1322.5 L1320.8,1326.4 L1325.6,1327.3 L1328.1,1333.6 L1330.5,1333.6 L1335.3,1327.8 L1340.1,1325.4 L1344.0,1323.0 L1347.4,1325.4 L1349.8,1319.1 L1353.6,1321.6 L1357.0,1320.1 L1360.4,1320.6 L1361.9,1314.3 L1364.3,1303.2 L1369.1,1297.4 L1373.9,1287.7 L1377.8,1278.1 L1381.2,1275.7 L1385.0,1275.7 L1387.5,1283.9 L1390.8,1280.5 L1394.7,1281.9 L1398.1,1282.9 L1401.9,1282.9 L1404.4,1278.1 L1405.3,1273.3 L1407.7,1282.9 L1411.6,1279.0 L1415.0,1278.1 L1417.4,1273.3 L1421.3,1263.6 L1424.6,1261.2 L1428.5,1258.8 L1430.9,1256.3 L1434.3,1244.3 L1436.7,1232.2 L1441.6,1229.8 L1446.4,1228.8 L1448.8,1225.0 L1451.2,1221.1 L1455.1,1220.1 L1458.5,1218.7 L1460.9,1214.3 L1463.3,1210.5 L1465.7,1215.3 L1468.1,1208.1 L1470.5,1216.3 L1472.9,1225.0 L1476.3,1229.8 L1480.0,1229.8 L1484.8,1226.4 L1488.2,1225.0 L1490.6,1241.9 L1494.5,1238.5 L1499.3,1235.6 L1503.2,1231.2 L1506.6,1233.6 L1509.9,1222.5 L1512.4,1216.3 L1516.2,1222.5 L1518.6,1227.4 L1522.5,1210.5 L1524.4,1215.3 L1526.8,1204.7 L1530.7,1200.8 L1534.1,1197.4 L1537.0,1204.7 L1538.9,1227.4 L1542.8,1227.4 L1546.7,1225.0 L1550.0,1221.6 L1553.4,1225.0 L1556.3,1231.2 L1559.7,1227.4 L1562.1,1225.0 L1564.5,1229.8 L1566.9,1220.1 L1568.4,1219.2 L1570.3,1237.0 L1574.2,1237.0 L1579.0,1235.6 L1580.5,1228.8 L1582.9,1235.6 L1585.3,1228.8 L1588.7,1232.2 L1592.1,1234.6 L1595.9,1227.4 L1598.3,1220.1 L1600.7,1229.8 L1604.6,1232.2 L1608.0,1228.8 L1610.4,1241.9 L1612.8,1232.2 L1616.2,1229.8 L1621.0,1229.8 L1623.9,1232.2 L1626.3,1220.1 L1629.7,1211.4 L1633.6,1215.3 L1636.0,1220.1 L1639.4,1217.7 L1641.8,1205.6 L1644.2,1203.2 L1649.0,1200.8 L1651.5,1195.0 L1653.9,1187.3 L1656.3,1190.2 L1658.7,1208.1 L1663.5,1209.0 L1666.9,1205.6 L1669.3,1203.2 L1671.7,1220.1 L1674.2,1212.9 L1679.0,1213.8 L1681.9,1212.9 L1685.3,1200.8 L1687.7,1196.9 L1691.1,1199.8 L1694.9,1203.2 L1697.3,1209.0 L1699.8,1210.5 L1702.2,1200.8 L1706.0,1196.0 L1708.4,1191.1 L1710.9,1187.3 L1713.3,1186.3 L1715.2,1196.0 L1718.1,1159.8 L1720.0,1169.4 L1722.5,1174.2 L1726.3,1176.7 L1728.7,1174.2 L1730.2,1181.5 L1732.1,1161.2 L1736.0,1167.0 L1739.4,1170.9 L1743.2,1174.2 L1744.7,1171.8 L1748.1,1166.0 L1751.4,1169.4 L1754.3,1174.2 L1756.3,1176.7 L1759.2,1171.8 L1762.5,1167.0 L1765.9,1170.9 L1768.8,1174.2 L1772.2,1171.8 L1774.6,1164.6 L1777.0,1142.8 L1780.4,1145.3 L1784.3,1150.1 L1789.1,1154.0 L1791.5,1142.8 L1793.9,1130.8 L1797.8,1135.6 L1801.2,1128.4 L1804.6,1124.5 L1807.5,1120.1 L1810.8,1125.9 L1813.3,1133.2 L1815.7,1121.1 L1818.1,1128.4 L1821.9,1122.6 L1825.3,1125.9 L1828.7,1130.8 L1831.6,1142.8 L1833.5,1139.0 L1836.4,1122.6 L1839.8,1125.9 L1843.2,1130.8 L1846.1,1125.9 L1849.5,1118.7 L1851.9,1104.2 L1855.8,1105.7 L1859.1,1108.1 L1862.5,1110.0 L1866.4,1097.0 L1870.2,1099.4 L1872.2,1101.8 L1876.0,1089.7 L1878.5,1099.4 L1881.8,1100.8 L1885.7,1103.2 L1889.6,1103.2 L1892.9,1116.3 L1896.3,1118.7 L1899.2,1130.8 L1900.0,1128.4 L1902.4,1138.0 L1905.8,1147.7 L1909.7,1154.9 L1913.5,1147.7 L1916.9,1138.0 L1920.3,1128.4 L1924.1,1111.5 L1926.6,1118.7 L1929.9,1138.0 L1933.8,1138.0 L1937.7,1132.2 L1941.1,1130.8 L1944.9,1133.2 L1948.3,1135.6 L1950.7,1133.2 L1953.1,1138.0 L1955.5,1128.4 L1960.4,1125.0 L1962.8,1123.5 L1965.2,1106.6 L1967.6,1116.3 L1969.1,1123.5 L1972.4,1128.4 L1977.3,1132.2 L1979.7,1133.2 L1982.1,1145.3 L1984.5,1135.6 L1986.9,1138.0 L1989.4,1140.4 L1994.2,1135.6 L1997.6,1134.2 L2001.4,1138.0 L2005.3,1142.8 L2008.7,1135.6 L2012.1,1128.4 L2015.9,1132.2 L2019.8,1133.2 L2023.2,1128.4 L2025.6,1124.5 L2028.0,1111.5 L2030.4,1116.3 L2034.3,1121.1 L2037.6,1118.7 L2041.0,1101.8 L2044.9,1098.4 L2049.7,1094.6 L2053.6,1092.1 L2057.0,1092.1 L2060.3,1097.0 L2063.2,1103.2 L2065.7,1097.0 L2068.1,1093.6 L2070.0,1072.8 L2071.5,1070.4 L2072.9,1080.1 L2076.3,1075.2 L2079.7,1071.4 L2082.1,1065.6 L2083.5,1060.7 L2085.9,1066.5 L2088.4,1060.7 L2090.8,1055.9 L2094.2,1050.1 L2097.1,1048.7 L2099.0,1043.8 L2101.4,1055.9 L2105.3,1051.1 L2107.7,1048.7 L2111.1,1043.8 L2113.5,1047.2 L2115.9,1041.4 L2119.8,1039.0 L2123.1,1039.0 L2125.5,1053.5 L2128.0,1048.7 L2130.9,1070.4 L2132.8,1066.5 L2136.7,1058.3 L2139.1,1054.9 L2143.9,1048.7 L2147.3,1048.7 L2150.2,1052.1 L2152.6,1055.9 L2155.0,1046.3 L2158.4,1029.4 L2160.8,1026.0 L2164.7,1023.6 L2168.1,1022.1 L2169.5,1012.4 L2174.3,1010.0 L2177.7,1014.9 L2182.5,1017.3 L2185.0,1013.9 L2187.4,1016.3 L2190.6,985.6 L2199.3,983.2 L2200.8,980.3 L2202.2,980.8 L2206.7,1002.8 L2209.1,1014.9 L2211.5,1029.4 L2213.9,1036.6 L2216.3,1017.3 L2218.8,988.3 L2220.1,945.0 L2221.1,944.5 L2227.3,961.4 L2229.8,955.7 L2230.7,921.8 L2241.8,896.2 L2244.7,898.6 L2246.7,936.3 L2247.6,919.9 L2256.3,919.4 L2260.2,927.6 L2263.1,956.6 L2273.2,896.2 L2275.2,896.7 L2277.6,929.6 L2278.1,919.9 L2280.5,919.9 L2286.3,953.7 L2289.2,949.9 L2290.1,966.3 L2291.1,949.9 L2294.0,960.5 L2301.3,951.8 L2305.6,922.8 L2306.1,931.5 L2307.5,931.5 L2308.5,907.3 L2319.1,932.9 L2322.0,923.8 L2324.4,927.6 L2330.2,904.4 L2332.7,918.9 L2334.6,902.5 L2338.5,920.9 L2346.2,920.4 L2347.6,925.7 L2352.9,886.1 L2361.6,902.0 L2363.6,901.5 L2375.2,905.4 L2376.1,927.6 L2378.1,921.8 L2382.4,935.4 L2389.7,932.5 L2391.6,918.0 L2393.5,914.1 L2396.4,919.9 L2400.0,919.9 L2404.5,920.4 L2407.9,926.2 L2411.8,911.7 L2416.6,911.7 L2419.0,914.1 L2422.4,923.8 L2424.8,914.1 L2427.2,918.9 L2431.1,906.8 L2434.5,899.6 L2435.9,889.9 L2438.3,906.8 L2443.2,920.4 L2446.5,923.8 L2450.4,928.6 L2454.3,931.0 L2456.7,897.2 L2460.1,902.0 L2463.9,906.8 L2467.3,904.4 L2470.7,873.0 L2473.6,887.5 L2475.5,909.3 L2477.9,914.1 L2480.8,909.3 L2484.2,916.5 L2486.6,904.4 L2490.0,911.7 L2492.9,918.9 L2496.3,916.5 L2499.7,892.4 L2503.5,899.6 L2507.4,906.8 L2510.8,897.2 L2513.2,886.6 L2515.6,863.4 L2520.4,856.1 L2523.8,851.3 L2527.7,841.6 L2529.1,846.5 L2531.1,819.9 L2536.4,822.3 L2539.8,824.7 L2542.2,822.3 L2545.5,811.2 L2550.4,812.7 L2554.2,810.3 L2556.7,817.5 L2558.1,822.3 L2560.0,805.4 L2563.9,800.6 L2567.3,793.3 L2569.7,781.3 L2572.1,795.8 L2574.5,774.0 L2578.4,770.6 L2581.8,766.8 L2584.7,757.1 L2586.6,762.0 L2588.1,745.0 L2592.9,737.8 L2597.7,725.7 L2600.1,701.6 L2602.5,728.1 L2605.0,708.8 L2608.8,689.5 L2612.2,675.0 L2614.6,659.6 L2617.0,629.1 L2620.4,641.2 L2622.8,626.7 L2625.2,611.3 L2627.7,665.4 L2629.1,699.2 L2631.5,675.0 L2633.9,670.2 L2637.8,704.0 L2641.2,725.7 L2643.6,718.5 L2647.5,713.7 L2653.3,714.6 L2657.1,718.5 L2660.5,719.5 L2663.9,706.4 L2667.7,689.5 L2670.2,677.4 L2672.6,684.7 L2674.0,650.9 L2676.4,655.7 L2678.4,682.3 L2682.2,687.1 L2687.1,691.9 L2690.9,699.2 L2691.9,691.9 L2694.3,687.1 L2699.1,684.7 L2701.6,675.0 L2704.0,660.5 L2707.3,635.4 L2711.2,640.2 L2716.0,643.6 L2719.9,647.5 L2723.3,650.9 L2725.7,646.0 L2728.1,650.9 L2730.5,657.1 L2732.9,636.4 L2735.4,612.2 L2737.8,614.6 L2741.6,619.5 L2745.0,619.5 L2747.4,605.0 L2749.8,607.4 L2752.3,595.3 L2757.1,580.8 L2760.0,563.9 L2762.2,567.8 L2766.5,543.6 L2768.0,554.3 L2770.4,588.1 L2772.8,611.2 L2775.2,601.6 L2777.6,613.2 L2781.5,612.2 L2784.9,597.7 L2787.3,583.2 L2789.7,566.3 L2792.1,574.5 L2794.5,573.6 L2797.0,561.5 L2799.4,547.0 L2802.8,529.1 L2805.2,520.5 L2809.0,525.3 L2811.4,530.1 L2813.9,515.6 L2816.3,503.5 L2818.7,481.8 L2821.1,457.7 L2823.5,433.5 L2825.9,414.2 L2829.8,392.5 L2832.2,380.4 L2834.6,378.0 L2836.1,308.9 L2838.0,307.0 L2839.0,346.6 L2840.4,491.5 L2842.8,501.1 L2846.7,520.5 L2848.6,433.5 L2851.0,431.1 L2852.5,445.6 L2854.9,419.0 L2857.3,409.4 L2860.7,392.5 L2863.1,390.1 L2865.1,382.8 L2867.0,428.7 L2868.9,392.5 L2870.9,394.9 L2874.2,416.6 L2878.1,440.8 L2880.0,409.4 L2882.4,411.8 L2884.9,378.0 L2887.8,361.1 L2891.1,344.2 L2893.5,356.2 L2896.0,344.2 L2897.4,349.0 L2899.3,328.2 L2901.8,322.4 L2905.1,313.7 L2906.6,373.2 L2909.0,368.3 L2911.4,384.3 L2913.8,358.7 L2916.7,365.9 L2919.1,374.6 L2921.6,336.0 L2924.0,346.6 L2926.4,365.9 L2928.8,387.6 L2932.2,394.9 L2935.6,404.5 L2938.0,403.6 L2939.4,443.2 L2941.8,527.7" fill="none" stroke="#4f3ae6" stroke-width="4" stroke-linejoin="miter" stroke-miterlimit="4"/>
<path d="M344.8,1399.1 L347.2,1398.1 L350.6,1403.9 L353.0,1416.0 L354.5,1495.7 L356.9,1570.6 L358.4,1510.2 L360.3,1529.5 L364.2,1539.2 L366.6,1546.5 L369.0,1536.8 L371.4,1544.0 L374.8,1541.6 L378.7,1558.5 L382.0,1575.4 L385.9,1544.0 L390.7,1548.9 L394.1,1553.7 L397.0,1561.0 L400.4,1527.1 L403.8,1528.6 L407.7,1530.5 L411.5,1527.1 L414.9,1534.4 L417.3,1522.3 L419.7,1527.1 L423.1,1525.7 L426.0,1524.7 L428.4,1503.0 L430.8,1503.0 L433.3,1536.8 L436.6,1541.6 L440.5,1552.7 L442.4,1534.4 L447.3,1539.2 L453.6,1541.6 L458.4,1541.6 L460.8,1546.5 L465.6,1544.0 L472.9,1541.6 L476.3,1536.8 L480.1,1532.0 L485.0,1524.7 L488.4,1505.4 L490.8,1481.2 L492.2,1461.9 L493.7,1432.9 L497.1,1418.4 L500.9,1399.1 L503.3,1408.7 L505.7,1399.1 L506.7,1365.2 L509.1,1354.6 L514.0,1353.2 L518.8,1345.9 L522.7,1353.2 L526.0,1348.3 L528.5,1349.8 L530.9,1345.9 L533.3,1329.0 L536.7,1331.4 L539.1,1341.1 L543.0,1358.0 L545.4,1343.5 L547.8,1355.6 L549.2,1374.9 L552.6,1383.6 L556.5,1380.7 L559.9,1379.7 L561.3,1365.2 L563.3,1314.5 L564.7,1326.6 L567.1,1307.3 L574.4,1309.7 L576.8,1314.5 L580.2,1326.6 L582.6,1343.5 L586.4,1336.3 L588.9,1333.8 L591.3,1329.0 L593.7,1341.1 L596.1,1362.8 L600.9,1362.8 L603.4,1367.7 L605.8,1389.4 L608.2,1420.8 L610.6,1428.1 L613.0,1399.1 L615.4,1355.6 L617.9,1314.5 L620.3,1307.3 L622.7,1312.1 L625.1,1263.8 L626.6,1240.6 L629.9,1237.2 L633.3,1232.4 L634.8,1227.5 L637.2,1239.6 L638.6,1224.1 L640.6,1238.6 L644.4,1243.0 L647.8,1245.9 L651.7,1222.7 L655.1,1215.4 L658.9,1222.7 L661.3,1227.5 L664.7,1221.7 L668.6,1225.1 L671.0,1215.4 L674.4,1203.4 L678.3,1184.0 L680.7,1191.3 L684.5,1175.8 L687.9,1179.2 L690.3,1191.3 L694.2,1177.8 L697.6,1215.4 L705.2,1237.0 L707.6,1219.2 L710.0,1217.7 L712.4,1192.1 L714.9,1196.0 L717.3,1205.6 L721.1,1224.0 L724.5,1208.1 L726.9,1203.2 L729.4,1196.0 L731.8,1210.5 L734.2,1225.0 L736.6,1234.6 L740.0,1235.6 L742.4,1249.1 L745.3,1254.9 L748.7,1249.1 L752.1,1246.7 L754.5,1240.4 L755.9,1251.5 L759.8,1251.5 L763.2,1251.5 L766.5,1251.5 L768.0,1245.2 L769.4,1264.6 L772.8,1258.8 L776.7,1249.1 L780.1,1238.5 L782.5,1229.8 L784.9,1244.3 L787.3,1244.3 L789.7,1251.5 L792.1,1261.2 L794.6,1277.1 L797.0,1244.3 L799.4,1256.3 L804.2,1262.6 L809.0,1270.8 L811.9,1273.3 L813.9,1290.2 L815.3,1287.7 L818.7,1258.8 L822.1,1241.9 L825.9,1219.2 L828.4,1183.9 L830.8,1183.9 L833.2,1167.0 L837.1,1174.2 L839.5,1175.7 L841.9,1167.0 L845.3,1174.2 L848.6,1167.0 L852.5,1157.3 L854.9,1151.1 L857.3,1164.6 L860.7,1186.3 L863.1,1188.7 L867.0,1183.9 L870.9,1175.7 L873.3,1196.9 L875.2,1176.7 L879.1,1179.1 L883.9,1182.5 L886.3,1190.2 L888.7,1185.4 L891.1,1193.6 L893.6,1186.3 L896.0,1192.1 L899.4,1200.8 L903.2,1198.4 L906.6,1199.8 L909.5,1197.4 L912.9,1200.8 L915.3,1191.1 L917.7,1200.8 L922.5,1203.2 L927.4,1200.8 L929.8,1187.3 L932.2,1191.1 L935.6,1196.0 L940.4,1196.0 L944.3,1196.0 L946.7,1210.5 L948.1,1229.8 L949.1,1258.8 L951.5,1270.8 L956.3,1269.9 L958.8,1267.5 L961.2,1272.3 L963.6,1268.4 L968.4,1269.9 L972.3,1269.9 L974.7,1233.6 L976.6,1249.1 L978.1,1273.3 L982.9,1275.7 L990.2,1276.6 L993.5,1267.5 L997.4,1277.1 L999.8,1285.3 L1002.2,1290.2 L1004.6,1273.3 L1007.1,1262.6 L1010.9,1257.8 L1015.8,1254.9 L1019.1,1243.3 L1021.6,1248.1 L1023.0,1258.8 L1026.4,1258.8 L1030.2,1262.6 L1033.6,1267.5 L1037.0,1258.8 L1038.5,1249.1 L1041.8,1245.7 L1044.3,1239.4 L1048.1,1233.6 L1050.5,1237.0 L1052.0,1227.4 L1054.4,1232.2 L1056.3,1225.0 L1060.0,1232.2 L1062.4,1234.6 L1064.8,1249.1 L1067.2,1253.9 L1069.7,1249.1 L1072.1,1234.6 L1075.5,1214.3 L1079.3,1219.2 L1081.7,1210.5 L1084.1,1186.3 L1086.6,1162.2 L1089.0,1138.0 L1091.4,1113.9 L1093.8,1095.5 L1097.7,1109.0 L1101.1,1104.2 L1105.9,1097.0 L1109.3,1083.9 L1112.2,1093.6 L1115.5,1089.7 L1118.9,1087.3 L1121.8,1081.0 L1124.2,1077.6 L1126.7,1053.5 L1128.6,1048.7 L1131.5,1055.9 L1134.9,1063.2 L1136.3,1079.1 L1138.2,1042.4 L1139.7,1055.9 L1142.1,1068.0 L1144.5,1058.3 L1146.9,1053.5 L1149.4,1051.1 L1150.8,1075.2 L1152.7,1048.7 L1156.6,1045.3 L1159.0,1043.8 L1161.4,1048.7 L1163.8,1053.5 L1166.3,1043.8 L1168.7,1041.4 L1171.1,1043.8 L1173.5,1022.1 L1176.9,993.1 L1178.3,969.0 L1180.7,944.8 L1183.2,956.9 L1186.5,949.7 L1188.0,959.3 L1190.4,973.8 L1193.8,988.3 L1196.2,976.2 L1199.1,964.1 L1201.0,978.6 L1204.9,973.8 L1207.3,971.4 L1209.7,972.8 L1212.1,954.5 L1215.5,949.7 L1219.4,954.5 L1222.8,966.6 L1225.7,973.8 L1227.6,959.3 L1229.0,969.0 L1231.5,976.2 L1233.9,966.6 L1236.3,954.5 L1238.7,944.8 L1241.1,964.1 L1243.5,944.8 L1252.0,911.7 L1255.6,914.0 L1259.0,919.0 L1260.4,966.6 L1265.3,964.1 L1269.1,961.7 L1272.5,971.4 L1274.0,993.1 L1276.4,981.1 L1279.8,1000.4 L1282.2,1017.3 L1284.6,1007.6 L1288.0,1011.5 L1289.4,981.1 L1291.8,973.8 L1296.7,959.3 L1299.1,966.6 L1301.5,961.7 L1306.3,964.1 L1310.2,969.0 L1313.6,961.7 L1316.0,952.1 L1320.8,906.8 L1324.7,877.9 L1327.1,870.6 L1328.1,877.9 L1330.5,848.9 L1335.3,845.0 L1342.5,844.1 L1349.8,861.0 L1355.6,819.9 L1358.0,790.9 L1359.4,737.8 L1361.9,747.5 L1363.3,735.4 L1366.7,713.7 L1370.6,682.3 L1373.0,720.9 L1376.3,699.2 L1381.2,670.2 L1387.5,643.6 L1389.9,655.7 L1390.8,641.2 L1394.2,670.2 L1400.5,684.7 L1402.9,739.3 L1404.4,687.1 L1407.7,720.9 L1412.6,679.8 L1415.0,665.4 L1419.8,662.9 L1422.2,658.1 L1429.5,667.8 L1431.9,704.0 L1433.3,701.6 L1435.8,679.8 L1437.7,679.8 L1444.0,653.3 L1446.4,670.2 L1448.8,660.5 L1452.2,689.5 L1457.0,713.7 L1460.9,728.1 L1463.3,745.0 L1465.7,723.3 L1469.6,720.9 L1474.4,693.4 L1477.8,699.2 L1479.2,718.5 L1480.0,716.1 L1482.4,722.3 L1488.7,721.9 L1492.1,769.2 L1494.5,771.6 L1496.9,730.6 L1503.2,728.1 L1506.6,745.0 L1509.0,731.5 L1512.4,749.9 L1517.2,732.0 L1521.1,742.6 L1522.5,701.6 L1525.9,701.6 L1533.1,654.7 L1539.4,687.1 L1541.8,677.4 L1550.0,679.8 L1552.4,689.5 L1554.9,679.8 L1556.3,689.5 L1562.1,675.0 L1566.0,655.7 L1569.4,660.5 L1571.8,672.6 L1576.6,670.2 L1579.0,687.1 L1581.4,684.7 L1585.3,701.6 L1591.1,696.8 L1594.5,711.2 L1598.3,714.6 L1603.2,737.8 L1606.5,755.7 L1609.4,743.6 L1612.8,752.3 L1615.2,754.7 L1621.5,728.1 L1624.9,742.6 L1629.7,795.8 L1635.5,793.3 L1639.4,778.9 L1643.2,784.7 L1645.7,776.4 L1649.0,720.9 L1652.4,712.7 L1656.3,720.9 L1659.7,693.4 L1665.9,687.1 L1669.3,706.4 L1672.2,701.6 L1674.6,682.3 L1679.0,689.5 L1682.8,699.2 L1685.3,712.7 L1687.7,711.2 L1691.5,762.0 L1694.9,822.3 L1697.3,805.4 L1700.7,810.3 L1702.2,745.0 L1707.0,757.1 L1710.4,764.4 L1712.8,754.7 L1715.2,771.6 L1716.7,783.7 L1719.1,774.0 L1723.9,767.7 L1726.3,771.6 L1728.7,749.9 L1731.1,752.3 L1733.6,717.5 L1739.4,730.6 L1741.8,765.8 L1744.7,770.6 L1748.1,768.2 L1754.3,781.3 L1757.7,786.1 L1760.1,800.6 L1762.5,823.3 L1765.9,805.4 L1769.8,788.5 L1772.2,783.7 L1774.6,786.1 L1777.0,756.2 L1779.4,762.0 L1783.3,776.4 L1786.7,747.5 L1789.1,731.5 L1792.5,728.1 L1796.3,727.2 L1798.8,728.1 L1802.6,713.7 L1807.0,701.6 L1810.8,716.1 L1813.3,728.1 L1815.7,752.3 L1819.0,753.7 L1821.5,740.2 L1825.3,737.8 L1829.2,738.8 L1832.6,752.3 L1835.0,757.1 L1837.4,733.0 L1840.8,713.7 L1844.6,693.4 L1848.0,687.1 L1850.4,688.5 L1851.9,677.4 L1857.7,684.7 L1862.5,695.3 L1864.9,683.7 L1866.4,694.3 L1870.2,679.8 L1872.2,670.2 L1875.1,642.2 L1877.5,648.5 L1879.4,665.4 L1883.3,675.0 L1888.1,687.1 L1890.5,660.5 L1892.9,614.6 L1895.9,611.0 L1899.0,567.0 L1902.0,521.5 L1904.3,530.6 L1905.8,509.3 L1910.6,505.0 L1916.9,509.8 L1920.3,486.7 L1923.2,457.7 L1925.1,452.8 L1928.0,472.2 L1931.4,493.9 L1933.8,496.3 L1936.2,473.1 L1940.1,462.5 L1945.9,473.1 L1949.7,470.7 L1953.1,464.9 L1954.6,450.4 L1957.0,452.8 L1960.4,462.5 L1962.8,469.8 L1965.2,443.2 L1967.6,445.6 L1971.5,431.1 L1977.3,411.8 L1979.7,450.4 L1982.1,462.5 L1984.5,461.5 L1987.9,472.2 L1990.8,480.9 L1993.2,476.0 L1996.6,473.1 L1999.0,484.2 L2002.9,490.0 L2006.3,495.4 L2008.7,484.2 L2011.1,472.2 L2015.9,448.0 L2019.8,435.0 L2021.7,464.0 L2024.6,478.0 L2030.4,480.4 L2035.2,481.8 L2037.6,452.8 L2040.1,443.2 L2041.5,447.1 L2047.3,438.4 L2052.1,431.1 L2057.9,418.1 L2064.2,433.5 L2066.6,440.8 L2069.0,421.5 L2071.5,421.5 L2072.9,433.5 L2078.7,438.4 L2081.1,461.1 L2083.5,468.3 L2088.4,468.3 L2092.2,464.9 L2095.6,462.5 L2097.1,472.2 L2099.5,462.5 L2101.9,469.8 L2103.3,462.5 L2106.7,466.4 L2111.5,474.6 L2114.9,460.1 L2117.3,473.1 L2121.2,489.1 L2123.6,501.1 L2126.0,525.3 L2128.0,553.3 L2131.8,550.4 L2136.7,539.8 L2139.1,537.4 L2142.5,508.4 L2144.9,513.2 L2147.8,544.6 L2150.2,563.9 L2152.6,592.9 L2156.0,561.5 L2158.4,554.3 L2159.8,573.6 L2162.3,553.3 L2168.1,553.3 L2169.5,561.5 L2171.4,535.0 L2173.8,553.3 L2176.3,551.9 L2179.2,539.8 L2182.5,529.2 L2187.4,531.1 L2189.8,549.4 L2192.2,556.7 L2197.0,568.8 L2199.4,548.5 L2201.9,568.8 L2204.3,554.3 L2206.7,563.9 L2210.1,583.3 L2213.9,612.2 L2216.3,566.3 L2218.8,585.7 L2221.2,559.1 L2226.0,551.9 L2228.4,548.5 L2230.8,556.7 L2233.3,551.9 L2238.1,539.8 L2241.9,529.2 L2243.9,489.1 L2248.7,485.7 L2251.1,480.9 L2257.4,479.4 L2259.8,485.2 L2262.2,471.2 L2264.6,467.3 L2271.9,467.8 L2275.3,465.9 L2277.7,427.7 L2280.6,429.7 L2284.9,431.1 L2287.3,422.9 L2290.2,426.3 L2292.7,424.8 L2296.0,427.7 L2299.4,419.0 L2302.3,409.4 L2305.7,382.8 L2308.1,407.0 L2312.9,399.7 L2317.8,395.9 L2320.0,399.7 L2323.9,421.5 L2327.2,423.9 L2332.1,416.6 L2336.9,435.9 L2340.3,409.4 L2345.1,389.1 L2348.0,394.9 L2351.4,414.2 L2354.8,409.4 L2359.6,407.0 L2362.5,418.1 L2365.9,421.5 L2368.3,427.7 L2373.1,416.6 L2378.0,405.5 L2382.8,407.0 L2388.6,407.0 L2391.5,412.3 L2394.9,392.5 L2399.7,395.9 L2404.5,399.7 L2406.9,394.9 L2409.4,382.8 L2411.8,350.5 L2415.1,341.8 L2419.0,336.0 L2422.4,346.6 L2425.3,339.4 L2428.7,346.6 L2433.5,350.0 L2435.9,338.4 L2438.3,344.2 L2443.2,349.0 L2448.0,346.6 L2452.8,349.0 L2455.2,365.9 L2457.6,370.7 L2461.5,363.5 L2464.9,367.4 L2468.8,353.8 L2472.1,353.8 L2477.0,344.2 L2480.8,336.0 L2482.8,321.5 L2485.2,346.6 L2490.0,352.9 L2492.9,355.3 L2494.8,373.2 L2497.7,374.6 L2500.6,353.8 L2502.6,361.1 L2505.9,387.6 L2508.4,378.0 L2510.8,386.7 L2514.2,378.0 L2517.1,399.7 L2522.8,386.7 L2526.7,379.4 L2530.1,386.2 L2532.5,385.2 L2537.3,380.4 L2539.8,381.4 L2543.1,360.1 L2546.0,356.3 L2550.9,358.7 L2554.2,352.9 L2556.7,357.2 L2559.1,351.4 L2563.9,363.5 L2567.3,375.6 L2571.1,379.4 L2573.6,395.9 L2576.9,385.2 L2580.8,365.9 L2583.2,368.3 L2585.6,341.8 L2588.1,329.7 L2590.5,322.4 L2593.8,317.6 L2595.3,312.8 L2597.7,327.3 L2601.1,320.0 L2602.5,327.3 L2604.0,375.6 L2605.9,368.3 L2609.8,361.1 L2613.6,382.8 L2617.0,399.7 L2619.4,411.8 L2623.3,392.5 L2626.7,391.5 L2629.1,403.6 L2631.5,392.5 L2633.9,385.2 L2638.8,370.7 L2641.2,368.3 L2643.6,378.0 L2646.0,390.1 L2648.4,391.0 L2653.3,404.6 L2658.1,420.0 L2660.5,438.4 L2663.9,426.3 L2667.7,416.6 L2670.2,415.7 L2674.0,440.8 L2677.4,462.5 L2679.8,481.8 L2682.2,491.5 L2686.1,498.7 L2688.0,491.5 L2690.4,535.0 L2692.9,544.6 L2696.7,530.1 L2701.6,518.1 L2707.3,506.0 L2716.0,501.1 L2719.9,498.7 L2722.3,518.1 L2725.7,510.8 L2728.1,506.0 L2730.5,496.3 L2732.9,491.5 L2735.4,498.7 L2737.8,515.6 L2740.2,530.1 L2742.6,537.4 L2745.0,530.1 L2747.4,535.0 L2749.8,542.2 L2751.3,527.7 L2754.7,525.3 L2757.1,522.9 L2760.0,525.3 L2760.7,526.2 L2765.6,529.1 L2772.8,531.1 L2775.2,532.5 L2777.6,522.9 L2781.0,510.8 L2784.9,496.3 L2787.3,486.6 L2789.7,487.6 L2792.1,502.1 L2795.5,506.9 L2799.4,503.5 L2802.8,501.1 L2804.2,477.0 L2806.6,468.3 L2809.0,474.6 L2811.4,476.0 L2813.9,491.5 L2816.3,506.0 L2818.7,522.9 L2821.1,515.6 L2825.9,514.7 L2829.8,519.5 L2832.2,525.3 L2834.1,518.0 L2836.1,518.0 L2838.0,549.4 L2840.4,553.3 L2842.8,568.7 L2845.3,583.2 L2847.7,597.7 L2850.1,636.4 L2851.5,684.7 L2852.5,730.5 L2853.5,660.5 L2857.3,662.9 L2861.2,665.3 L2863.6,684.7 L2865.5,696.7 L2868.0,676.0 L2870.9,679.8 L2874.2,684.7 L2877.6,689.5 L2880.5,699.1 L2883.9,684.7 L2886.3,687.1 L2888.7,701.6 L2891.1,717.5 L2893.5,718.5 L2896.0,684.7 L2899.3,700.6 L2902.2,687.1 L2905.6,675.0 L2908.0,679.8 L2910.5,643.6 L2912.9,660.5 L2914.3,682.2 L2917.7,679.8 L2921.1,678.9 L2922.5,665.3 L2925.9,661.5 L2929.8,658.1 L2932.2,642.2 L2935.6,625.7 L2938.0,633.9 L2939.4,655.7 L2941.8,665.3" fill="none" stroke="#111111" stroke-width="4" stroke-linejoin="miter" stroke-miterlimit="4"/>
<rect x="134" y="250" width="4" height="1390" fill="#4f3ae6"/>
<rect x="342" y="250" width="4" height="1390" fill="#111"/>
<rect x="2966" y="250" width="4" height="1390" fill="#9db3eb"/>
<rect x="346" y="1640" width="2620" height="2" fill="#d3d3df"/>
<rect x="468.2" y="1641" width="2" height="19" fill="#d8d8e2"/>
<rect x="720.0" y="1641" width="2" height="19" fill="#d8d8e2"/>
<rect x="980.0" y="1641" width="2" height="19" fill="#d8d8e2"/>
<rect x="1237.8" y="1641" width="2" height="19" fill="#d8d8e2"/>
<rect x="1491.7" y="1641" width="2" height="19" fill="#d8d8e2"/>
<rect x="1751.9" y="1641" width="2" height="19" fill="#d8d8e2"/>
<rect x="2007.8" y="1641" width="2" height="19" fill="#d8d8e2"/>
<rect x="2261.6" y="1641" width="2" height="19" fill="#d8d8e2"/>
<rect x="2522.0" y="1641" width="2" height="19" fill="#d8d8e2"/>
<rect x="2777.9" y="1641" width="2" height="19" fill="#d8d8e2"/>
<text x="1089.04" y="114.3" font-size="63.5" fill="#131316" textLength="1026.22" lengthAdjust="spacingAndGlyphs" font-weight="bold">Bitcoin and Gold Price Correlation</text>
<text x="1175.54" y="193.8" font-size="41" fill="#111" textLength="395.86" lengthAdjust="spacingAndGlyphs">Correlation Coefficient</text>
<text x="1676.84" y="194.0" font-size="41" fill="#111" textLength="217.25" lengthAdjust="spacingAndGlyphs">Bitcoin Price</text>
<text x="1996.75" y="194.0" font-size="41" fill="#111" textLength="84.60" lengthAdjust="spacingAndGlyphs">Gold</text>
<text x="61.84" y="413.9" font-size="40.5" fill="#111" textLength="43.54" lengthAdjust="spacingAndGlyphs">5K</text>
<text x="59.48" y="722.8499999999999" font-size="40.5" fill="#111" textLength="45.62" lengthAdjust="spacingAndGlyphs">4K</text>
<text x="60.71" y="1031.8" font-size="40.5" fill="#111" textLength="44.38" lengthAdjust="spacingAndGlyphs">3K</text>
<text x="60.29" y="1340.75" font-size="40.5" fill="#111" textLength="44.80" lengthAdjust="spacingAndGlyphs">2K</text>
<text x="60.39" y="1649.6999999999998" font-size="40.5" fill="#111" textLength="44.70" lengthAdjust="spacingAndGlyphs">1K</text>
<text x="226.92" y="458.2" font-size="40.5" fill="#111" textLength="87.63" lengthAdjust="spacingAndGlyphs">100K</text>
<text x="247.42" y="521.7" font-size="40.5" fill="#111" textLength="67.57" lengthAdjust="spacingAndGlyphs">90K</text>
<text x="247.42" y="593.7" font-size="40.5" fill="#111" textLength="67.57" lengthAdjust="spacingAndGlyphs">80K</text>
<text x="247.42" y="676.4" font-size="40.5" fill="#111" textLength="67.57" lengthAdjust="spacingAndGlyphs">70K</text>
<text x="247.74" y="770.4" font-size="40.5" fill="#111" textLength="67.05" lengthAdjust="spacingAndGlyphs">60K</text>
<text x="248.77" y="882.2" font-size="40.5" fill="#111" textLength="66.01" lengthAdjust="spacingAndGlyphs">50K</text>
<text x="247.47" y="1018.2" font-size="40.5" fill="#111" textLength="67.33" lengthAdjust="spacingAndGlyphs">40K</text>
<text x="247.64" y="1194.0" font-size="40.5" fill="#111" textLength="67.15" lengthAdjust="spacingAndGlyphs">30K</text>
<text x="246.50" y="1441.6" font-size="40.5" fill="#111" textLength="68.30" lengthAdjust="spacingAndGlyphs">20K</text>
<text x="2998.00" y="292" font-size="40.5" fill="#111" textLength="22.53" lengthAdjust="spacingAndGlyphs">1</text>
<text x="2997.70" y="633.9" font-size="40.5" fill="#111" textLength="50.79" lengthAdjust="spacingAndGlyphs">0.5</text>
<text x="2997.00" y="974.0" font-size="40.5" fill="#111" textLength="22.53" lengthAdjust="spacingAndGlyphs">0</text>
<text x="2999.02" y="1315.9" font-size="40.5" fill="#111" textLength="65.67" lengthAdjust="spacingAndGlyphs">-0.5</text>
<text x="2721.00" y="1755" font-size="29.7" fill="#6e6e80" textLength="400.88" lengthAdjust="spacingAndGlyphs">© CryptoQuant. All rights reserved</text>
<text x="407.23" y="1699.8" font-size="33" fill="#6b6b7c" textLength="123.76" lengthAdjust="spacingAndGlyphs">2023 Jan</text>
<text x="650.89" y="1699.8" font-size="33" fill="#6b6b7c" textLength="138.25" lengthAdjust="spacingAndGlyphs">2023 May</text>
<text x="915.30" y="1699.8" font-size="33" fill="#6b6b7c" textLength="130.77" lengthAdjust="spacingAndGlyphs">2023 Sep</text>
<text x="1176.83" y="1699.8" font-size="33" fill="#6b6b7c" textLength="123.76" lengthAdjust="spacingAndGlyphs">2024 Jan</text>
<text x="1422.59" y="1699.8" font-size="33" fill="#6b6b7c" textLength="138.25" lengthAdjust="spacingAndGlyphs">2024 May</text>
<text x="1687.20" y="1699.8" font-size="33" fill="#6b6b7c" textLength="130.77" lengthAdjust="spacingAndGlyphs">2024 Sep</text>
<text x="1946.83" y="1699.8" font-size="33" fill="#6b6b7c" textLength="123.76" lengthAdjust="spacingAndGlyphs">2025 Jan</text>
<text x="2192.49" y="1699.8" font-size="33" fill="#6b6b7c" textLength="138.25" lengthAdjust="spacingAndGlyphs">2025 May</text>
<text x="2457.30" y="1699.8" font-size="33" fill="#6b6b7c" textLength="130.77" lengthAdjust="spacingAndGlyphs">2025 Sep</text>
<text x="2716.93" y="1699.8" font-size="33" fill="#6b6b7c" textLength="123.76" lengthAdjust="spacingAndGlyphs">2026 Jan</text>
<text transform="translate(199,945) rotate(-90)" font-size="41" text-anchor="middle" fill="#111" textLength="274" lengthAdjust="spacingAndGlyphs">Bitcoin Price ($)</text>
<text transform="translate(3090,945) rotate(90)" font-size="41" text-anchor="middle" fill="#111" textLength="397" lengthAdjust="spacingAndGlyphs">Correlation Coefficient</text>
<rect x="1118" y="182" width="48" height="12" fill="#cfd9f3"/><rect x="1118" y="178" width="48" height="4" fill="#98b0ea"/>
<rect x="1619" y="182" width="48" height="4" fill="#111"/>
<rect x="1940" y="182" width="48" height="4" fill="#4f3ae6"/>
</svg></body></html>
